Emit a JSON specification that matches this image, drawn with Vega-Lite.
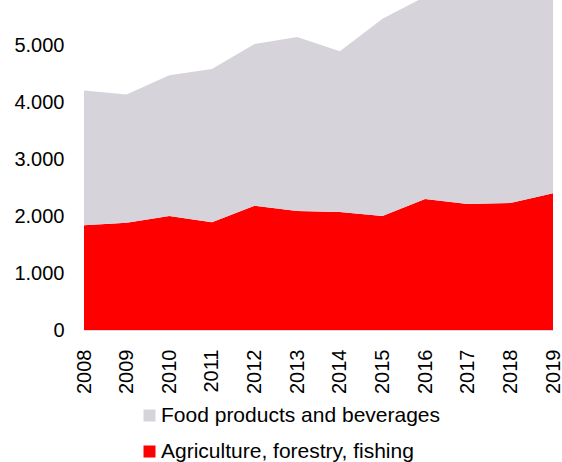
{
  "$schema": "https://vega.github.io/schema/vega-lite/v6.json",
  "width": 469,
  "height": 330,
  "autosize": {"type": "none"},
  "padding": {"left": 84, "top": 0, "right": 9, "bottom": 132},
  "background": "white",
  "config": {
    "view": {"stroke": null},
    "font": "Liberation Sans",
    "locale": {"number": {"decimal": ",", "thousands": ".", "grouping": [3], "currency": ["", " €"]}}
  },
  "data": {
    "values": [
      {"year": "2008", "sector": "Agriculture, forestry, fishing", "value": 1840},
      {"year": "2009", "sector": "Agriculture, forestry, fishing", "value": 1880},
      {"year": "2010", "sector": "Agriculture, forestry, fishing", "value": 2000},
      {"year": "2011", "sector": "Agriculture, forestry, fishing", "value": 1890},
      {"year": "2012", "sector": "Agriculture, forestry, fishing", "value": 2180},
      {"year": "2013", "sector": "Agriculture, forestry, fishing", "value": 2090},
      {"year": "2014", "sector": "Agriculture, forestry, fishing", "value": 2070},
      {"year": "2015", "sector": "Agriculture, forestry, fishing", "value": 2000},
      {"year": "2016", "sector": "Agriculture, forestry, fishing", "value": 2300},
      {"year": "2017", "sector": "Agriculture, forestry, fishing", "value": 2210},
      {"year": "2018", "sector": "Agriculture, forestry, fishing", "value": 2230},
      {"year": "2019", "sector": "Agriculture, forestry, fishing", "value": 2400},
      {"year": "2008", "sector": "Food products and beverages", "value": 2360},
      {"year": "2009", "sector": "Food products and beverages", "value": 2250},
      {"year": "2010", "sector": "Food products and beverages", "value": 2470},
      {"year": "2011", "sector": "Food products and beverages", "value": 2690},
      {"year": "2012", "sector": "Food products and beverages", "value": 2840},
      {"year": "2013", "sector": "Food products and beverages", "value": 3050},
      {"year": "2014", "sector": "Food products and beverages", "value": 2820},
      {"year": "2015", "sector": "Food products and beverages", "value": 3460},
      {"year": "2016", "sector": "Food products and beverages", "value": 3550},
      {"year": "2017", "sector": "Food products and beverages", "value": 3890},
      {"year": "2018", "sector": "Food products and beverages", "value": 4070},
      {"year": "2019", "sector": "Food products and beverages", "value": 4100}
    ]
  },
  "mark": {"type": "area", "clip": true, "interpolate": "linear"},
  "encoding": {
    "x": {
      "field": "year",
      "type": "ordinal",
      "scale": {"type": "point", "padding": 0},
      "axis": {
        "title": null,
        "labelAngle": -90,
        "labelFontSize": 20,
        "labelColor": "#000000",
        "labelPadding": 19,
        "ticks": false,
        "domain": true,
        "domainColor": "#D9D9D9",
        "grid": false
      }
    },
    "y": {
      "field": "value",
      "type": "quantitative",
      "stack": "zero",
      "scale": {"domain": [0, 5790], "nice": false},
      "axis": {
        "title": null,
        "values": [0, 1000, 2000, 3000, 4000, 5000],
        "format": ",.0f",
        "labelFontSize": 20,
        "labelColor": "#000000",
        "labelPadding": 20,
        "ticks": false,
        "domain": false,
        "grid": false
      }
    },
    "color": {
      "field": "sector",
      "type": "nominal",
      "scale": {
        "domain": ["Food products and beverages", "Agriculture, forestry, fishing"],
        "range": ["#D7D3DA", "#FF0000"]
      },
      "legend": {
        "title": null,
        "orient": "none",
        "legendX": 55,
        "legendY": 405,
        "direction": "vertical",
        "symbolType": "square",
        "symbolSize": 144,
        "symbolStrokeWidth": 0,
        "labelFontSize": 21,
        "labelColor": "#000000",
        "labelOffset": 1,
        "labelLimit": 0,
        "rowPadding": 14
      }
    },
    "order": {"field": "sector", "sort": "ascending"}
  }
}
